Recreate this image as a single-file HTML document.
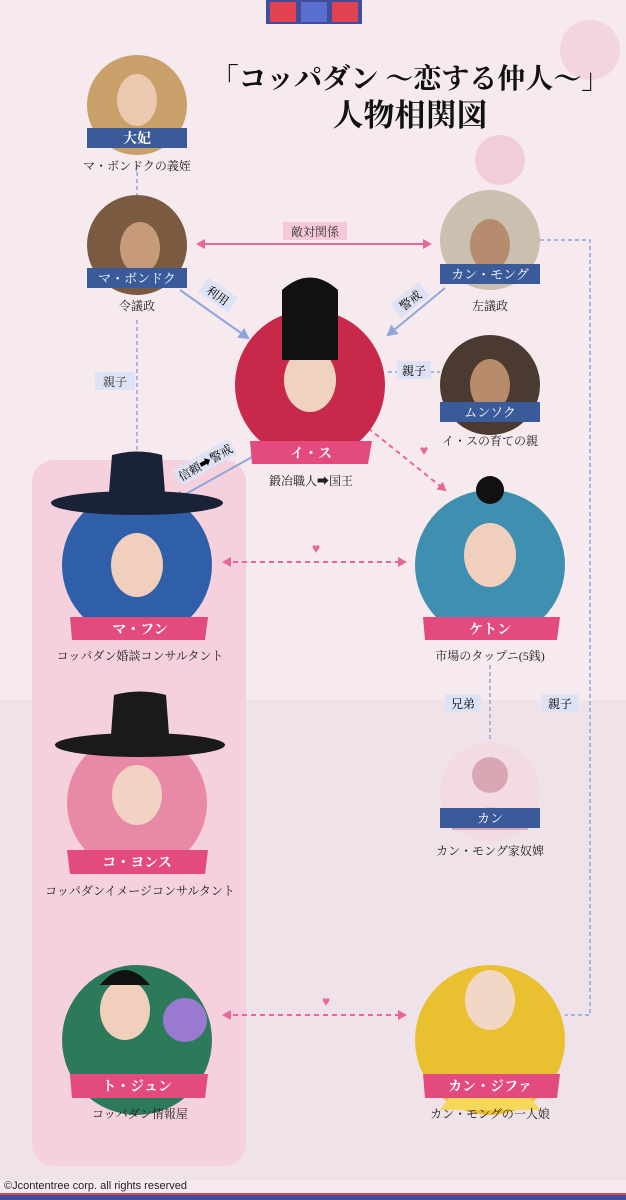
<!DOCTYPE html>
<html><head><meta charset="utf-8"><style>
html,body{margin:0;padding:0}
body{width:626px;height:1200px;overflow:hidden;background:#f6eaef;font-family:"Liberation Serif","Noto Serif CJK SC","Noto Sans CJK JP",serif}
svg{position:absolute;left:0;top:0}
</style></head><body>
<svg width="626" height="1200" viewBox="0 0 626 1200" xmlns="http://www.w3.org/2000/svg">
<defs>
<marker id="bp" markerWidth="10" markerHeight="10" refX="7" refY="5" orient="auto-start-reverse" markerUnits="userSpaceOnUse"><path d="M0,0 L9,5 L0,10 z" fill="#e9669a"/></marker>
<marker id="bb" markerWidth="12" markerHeight="12" refX="9" refY="6" orient="auto-start-reverse" markerUnits="userSpaceOnUse"><path d="M0,0 L11,6 L0,12 z" fill="#8fa6dc"/></marker>
</defs>
<rect width="626" height="1200" fill="#f6eaef"/>
<rect x="0" y="700" width="626" height="480" fill="#efe2e8"/>
<!-- top squares -->
<rect x="266" y="0" width="96" height="24" fill="#3f4d9a"/>
<rect x="270" y="2" width="26" height="20" fill="#e2424f"/><rect x="301" y="2" width="26" height="20" fill="#5a6ed0"/><rect x="332" y="2" width="26" height="20" fill="#e2424f"/>
<!-- flowers -->
<circle cx="590" cy="50" r="30" fill="#f1c6d2" opacity=".6"/><circle cx="500" cy="160" r="25" fill="#eab0c1" opacity=".5"/>
<!-- title -->
<text x="410" y="88" font-size="28" font-weight="bold" text-anchor="middle" fill="#111">「コッパダン ～恋する仲人～」</text>
<text x="410" y="126" font-size="31" font-weight="bold" text-anchor="middle" fill="#111">人物相関図</text>
<!-- left panel -->
<rect x="32" y="460" width="214" height="706" rx="22" fill="#f5d1de"/>
<!-- connectors -->
<line x1="137" y1="165" x2="137" y2="195" stroke="#8fa6dc" stroke-width="1.5" stroke-dasharray="4,3"/>
<line x1="137" y1="320" x2="137" y2="455" stroke="#8fa6dc" stroke-width="1.5" stroke-dasharray="4,3"/>
<rect x="95" y="372" width="40" height="18" fill="#dde3f4"/><text x="115" y="386" font-size="12" text-anchor="middle" fill="#333">親子</text>
<line x1="198" y1="244" x2="430" y2="244" stroke="#e9669a" stroke-width="2" marker-start="url(#bp)" marker-end="url(#bp)"/>
<rect x="283" y="222" width="64" height="18" fill="#f6c9d8"/><text x="315" y="236" font-size="12" text-anchor="middle" fill="#333">敵対関係</text>
<line x1="180" y1="290" x2="248" y2="338" stroke="#8fa6dc" stroke-width="2" marker-end="url(#bb)"/>
<g transform="translate(218,295) rotate(35)"><rect x="-18" y="-9" width="36" height="18" fill="#dde3f4"/><text x="0" y="5" font-size="12" text-anchor="middle">利用</text></g>
<line x1="445" y1="288" x2="388" y2="335" stroke="#8fa6dc" stroke-width="2" marker-end="url(#bb)"/>
<g transform="translate(410,300) rotate(-38)"><rect x="-18" y="-9" width="36" height="18" fill="#dde3f4"/><text x="0" y="5" font-size="12" text-anchor="middle">警戒</text></g>
<line x1="388" y1="372" x2="440" y2="372" stroke="#8fa6dc" stroke-width="1.5" stroke-dasharray="4,3"/>
<rect x="397" y="361" width="34" height="18" fill="#dde3f4"/><text x="414" y="375" font-size="12" text-anchor="middle">親子</text>
<line x1="270" y1="447" x2="175" y2="500" stroke="#8fa6dc" stroke-width="2" marker-end="url(#bb)"/>
<g transform="translate(205,462) rotate(-30)"><rect x="-32" y="-9" width="64" height="18" fill="#dde3f4"/><text x="0" y="5" font-size="12" text-anchor="middle">信頼➡警戒</text></g>
<line x1="368" y1="428" x2="445" y2="490" stroke="#e9669a" stroke-width="2" stroke-dasharray="5,4" marker-end="url(#bp)"/>
<text x="424" y="455" font-size="14" fill="#e9669a" text-anchor="middle">♥</text>
<line x1="224" y1="562" x2="405" y2="562" stroke="#e9669a" stroke-width="2" stroke-dasharray="5,4" marker-start="url(#bp)" marker-end="url(#bp)"/>
<text x="316" y="553" font-size="14" fill="#e9669a" text-anchor="middle">♥</text>
<line x1="490" y1="665" x2="490" y2="740" stroke="#8fa6dc" stroke-width="1.5" stroke-dasharray="4,3"/>
<rect x="445" y="694" width="36" height="18" fill="#dde3f4"/><text x="463" y="708" font-size="12" text-anchor="middle">兄弟</text>
<polyline points="540,240 590,240 590,1015 565,1015" fill="none" stroke="#8fa6dc" stroke-width="1.5" stroke-dasharray="4,3"/>
<rect x="542" y="694" width="36" height="18" fill="#dde3f4"/><text x="560" y="708" font-size="12" text-anchor="middle">親子</text>
<line x1="224" y1="1015" x2="405" y2="1015" stroke="#e9669a" stroke-width="2" stroke-dasharray="5,4" marker-start="url(#bp)" marker-end="url(#bp)"/>
<text x="326" y="1006" font-size="14" fill="#e9669a" text-anchor="middle">♥</text>

<!-- small circles with blue bands -->
<g font-size="13" text-anchor="middle">
<circle cx="137" cy="105" r="50" fill="#c9a06a"/><ellipse cx="137" cy="100" rx="20" ry="26" fill="#ecc8b0"/>
<rect x="87" y="128" width="100" height="20" fill="#3a5a9a"/><text x="137" y="143" fill="#fff" font-weight="bold" font-size="14">大妃</text>
<text x="137" y="170" fill="#222" font-size="12">マ・ボンドクの義姪</text>

<circle cx="137" cy="245" r="50" fill="#7a5a40"/><ellipse cx="140" cy="248" rx="20" ry="26" fill="#c79a7a"/>
<rect x="87" y="268" width="100" height="20" fill="#3a5a9a"/><text x="137" y="283" fill="#fff" font-size="13">マ・ボンドク</text>
<text x="137" y="310" fill="#222" font-size="12">令議政</text>

<circle cx="490" cy="240" r="50" fill="#cbbfb0"/><ellipse cx="490" cy="245" rx="20" ry="26" fill="#b58c6e"/>
<rect x="440" y="264" width="100" height="20" fill="#3a5a9a"/><text x="490" y="279" fill="#fff" font-size="13">カン・モング</text>
<text x="490" y="310" fill="#222" font-size="12">左議政</text>

<circle cx="490" cy="385" r="50" fill="#4a3a30"/><ellipse cx="490" cy="385" rx="20" ry="26" fill="#b88c6a"/>
<rect x="440" y="402" width="100" height="20" fill="#3a5a9a"/><text x="490" y="417" fill="#fff" font-size="13">ムンソク</text>
<text x="490" y="445" fill="#222" font-size="12">イ・スの育ての親</text>

<circle cx="490" cy="792" r="50" fill="#f2dbe2"/><circle cx="490" cy="775" r="18" fill="#d9a7b4"/><path d="M452,825 Q490,790 528,825 L528,830 L452,830z" fill="#d9a7b4"/>
<rect x="440" y="808" width="100" height="20" fill="#3a5a9a"/><text x="490" y="823" fill="#fff" font-size="13">カン</text>
<text x="490" y="855" fill="#222" font-size="12">カン・モング家奴婢</text>
</g>

<!-- large circles -->
<g text-anchor="middle">
<circle cx="310" cy="385" r="75" fill="#c8284a"/><ellipse cx="310" cy="380" rx="26" ry="32" fill="#f0d2c0"/><path d="M282,360 L282,290 Q310,265 338,290 L338,360z" fill="#111"/>
<path d="M250,441 L372,441 L368,464 L252,464z" fill="#e34a7e"/><text x="311" y="458" fill="#fff" font-size="14" font-weight="bold">イ・ス</text>
<text x="311" y="485" fill="#222" font-size="12">鍛冶職人➡国王</text>

<circle cx="137" cy="565" r="75" fill="#2e5fa8"/><ellipse cx="137" cy="565" rx="26" ry="32" fill="#f0d0bc"/><ellipse cx="137" cy="503" rx="86" ry="12" fill="#1a2238"/><path d="M108,505 L112,455 Q137,448 162,455 L166,505z" fill="#1a2238"/>
<path d="M70,617 L208,617 L205,640 L72,640z" fill="#e34a7e"/><text x="140" y="634" fill="#fff" font-size="14" font-weight="bold">マ・フン</text>
<text x="140" y="660" fill="#222" font-size="12">コッパダン婚談コンサルタント</text>

<circle cx="490" cy="565" r="75" fill="#3f8fb0"/><ellipse cx="490" cy="555" rx="26" ry="32" fill="#f0d0bc"/><circle cx="490" cy="490" r="14" fill="#111"/>
<path d="M423,617 L560,617 L557,640 L425,640z" fill="#e34a7e"/><text x="490" y="634" fill="#fff" font-size="14" font-weight="bold">ケトン</text>
<text x="490" y="660" fill="#222" font-size="12">市場のタップニ(5銭)</text>

<circle cx="137" cy="803" r="70" fill="#e88aa6"/><ellipse cx="137" cy="795" rx="25" ry="30" fill="#f2d2c2"/><ellipse cx="140" cy="745" rx="85" ry="12" fill="#1a1a1a"/><path d="M110,748 L114,695 Q140,688 166,695 L170,748z" fill="#1a1a1a"/>
<path d="M67,850 L208,850 L205,874 L70,874z" fill="#e34a7e"/><text x="137" y="867" fill="#fff" font-size="14" font-weight="bold">コ・ヨンス</text>
<text x="140" y="895" fill="#222" font-size="12">コッパダンイメージコンサルタント</text>

<circle cx="137" cy="1040" r="75" fill="#2d7a5a"/><ellipse cx="125" cy="1010" rx="25" ry="30" fill="#f0d0bc"/><path d="M100,985 Q125,955 150,985z" fill="#111"/><circle cx="185" cy="1020" r="22" fill="#9a7ad0"/>
<path d="M70,1074 L208,1074 L205,1098 L72,1098z" fill="#e34a7e"/><text x="137" y="1091" fill="#fff" font-size="14" font-weight="bold">ト・ジュン</text>
<text x="140" y="1118" fill="#222" font-size="12">コッパダン情報屋</text>

<circle cx="490" cy="1040" r="75" fill="#e9c030"/><ellipse cx="490" cy="1000" rx="25" ry="30" fill="#f2d6c6"/><path d="M440,1110 Q490,1040 540,1110z" fill="#f5d75a"/>
<path d="M423,1074 L560,1074 L557,1098 L425,1098z" fill="#e34a7e"/><text x="490" y="1091" fill="#fff" font-size="14" font-weight="bold">カン・ジファ</text>
<text x="490" y="1118" fill="#222" font-size="12">カン・モングの一人娘</text>
</g>

<text x="4" y="1189" font-family="Liberation Sans, sans-serif" font-size="11" fill="#222">©Jcontentree corp. all rights reserved</text>
<rect x="0" y="1193" width="626" height="7" fill="#3f4d9a"/>
<rect x="0" y="1193" width="626" height="2" fill="#e2424f"/>
</svg>
</body></html>
